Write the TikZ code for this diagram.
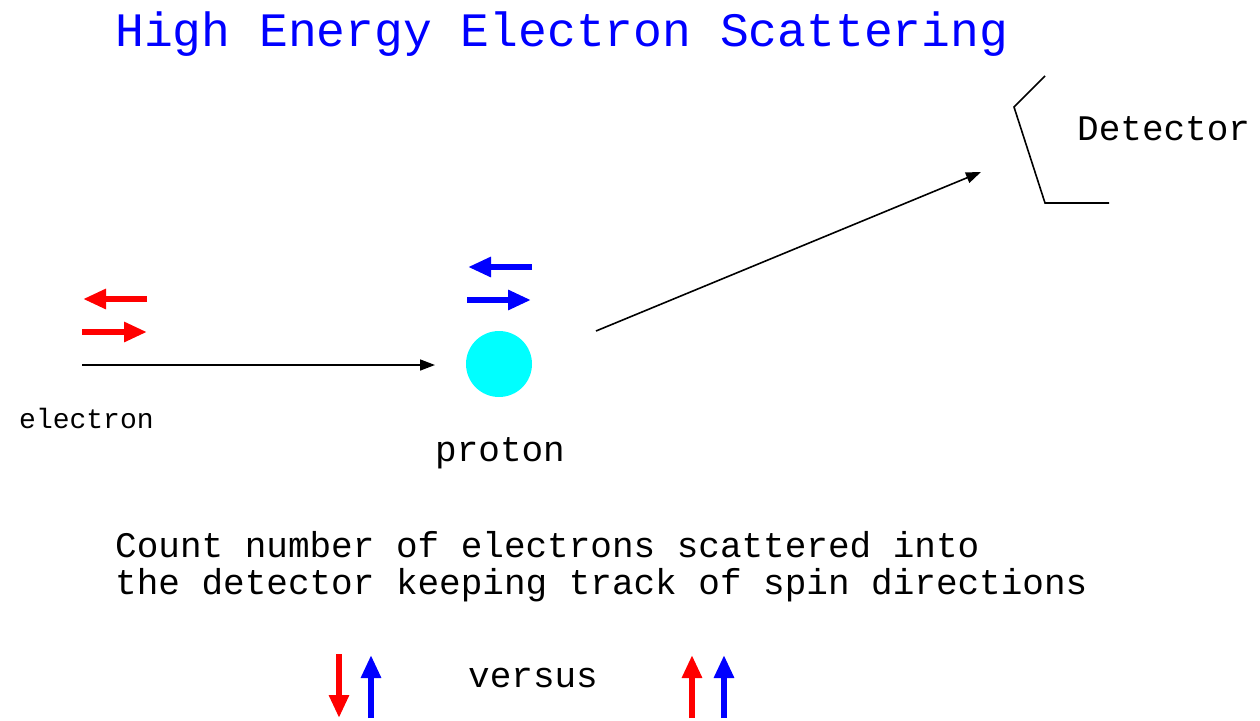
\documentclass[tikz,border=0pt]{standalone}
\usepackage{fontspec}
\setmainfont{Liberation Mono}
\usetikzlibrary{arrows.meta}
\definecolor{pred}{RGB}{255,0,0}
\definecolor{pblue}{RGB}{0,0,255}
\definecolor{pcyan}{RGB}{0,255,255}
\tikzset{
  spin/.style={line width=6.5pt,-{Triangle[length=23pt,width=19pt]}},
  track/.style={line width=1.6pt,-{Triangle[length=15pt,width=11pt]}},
  lbl/.style={anchor=base west,inner sep=0pt,font=\fontsize{36}{40}\selectfont},
}
\begin{document}
\begin{tikzpicture}[x=1pt,y=-1pt]
\useasboundingbox (0,0) rectangle (1260,720);
% title
\node[lbl,text=pblue,font=\fontsize{48}{52}\selectfont] (title) at (115,46) {High Energy Electron Scattering};
% detector
\coordinate (d1) at (1045,76);
\coordinate (d2) at (1014,107);
\coordinate (d3) at (1045,203);
\coordinate (d4) at (1109,203);
\draw[line width=1.6pt] (d1) -- (d2) -- (d3) -- (d4);
\node[lbl] (det) at (1077,140) {Detector};
% proton
\node[circle,fill=pcyan,minimum size=66pt,inner sep=0pt] (proton) at (499,364) {};
\node[lbl] (plbl) at (435,461) {proton};
% electron
\node[lbl,font=\fontsize{28}{32}\selectfont] (elbl) at (19,428) {electron};
\coordinate (ein) at (82,365);
\coordinate (eend) at (435,365);
\draw[track] (ein) -- (eend);
\coordinate (sout) at (596,331);
\coordinate (send) at (981,172);
\draw[track] (sout) -- (send);
% electron spins
\coordinate (er1a) at (147,299); \coordinate (er1b) at (83,299);
\coordinate (er2a) at (82,332); \coordinate (er2b) at (147,332);
\draw[spin,pred] (er1a) -- (er1b);
\draw[spin,pred] (er2a) -- (er2b);
% proton spins
\coordinate (pb1a) at (532,267); \coordinate (pb1b) at (468,267);
\coordinate (pb2a) at (467,300); \coordinate (pb2b) at (531,300);
\draw[spin,pblue] (pb1a) -- (pb1b);
\draw[spin,pblue] (pb2a) -- (pb2b);
% text
\node[lbl] (c1) at (115,557) {Count number of electrons scattered into};
\node[lbl] (c2) at (115,594) {the detector keeping track of spin directions};
\node[lbl] (vs) at (468,687) {versus};
% bottom spins
\coordinate (a1) at (339,654); \coordinate (a2) at (339,718);
\coordinate (b1) at (371,718); \coordinate (b2) at (371,655);
\coordinate (c1a) at (692,718); \coordinate (c1b) at (692,655);
\coordinate (d1a) at (724,718); \coordinate (d1b) at (724,655);
\draw[spin,pred] (a1) -- (a2);
\draw[spin,pblue] (b1) -- (b2);
\draw[spin,pred] (c1a) -- (c1b);
\draw[spin,pblue] (d1a) -- (d1b);
\end{tikzpicture}
\end{document}
